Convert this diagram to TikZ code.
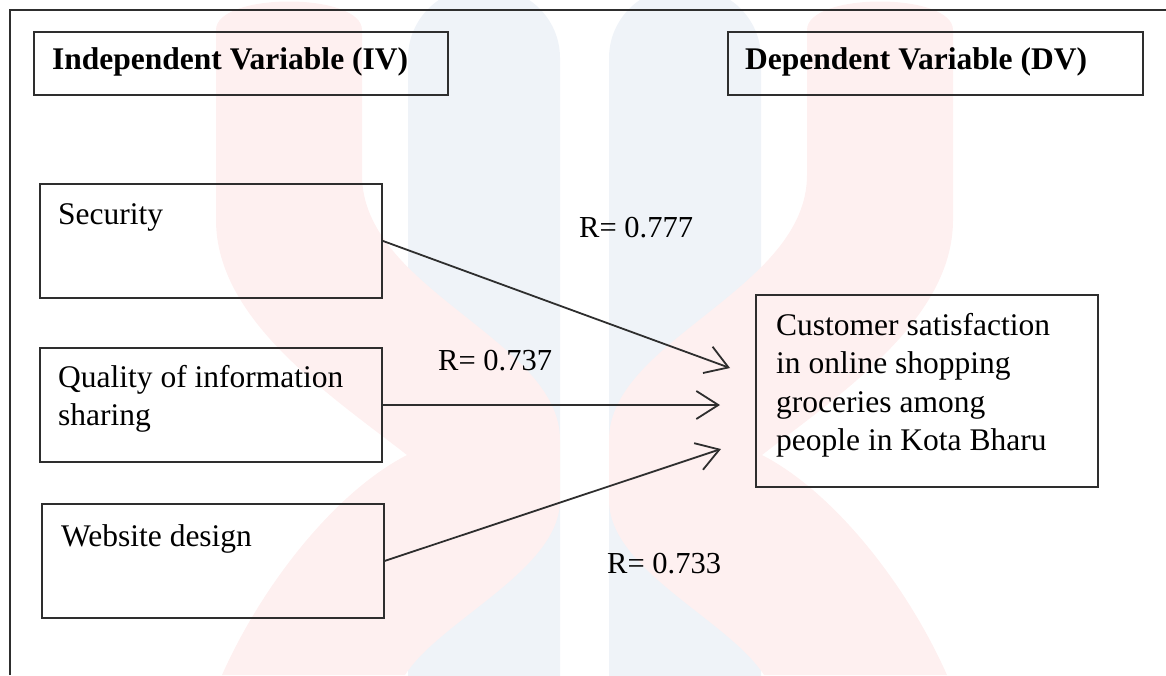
\documentclass[tikz,border=0pt]{standalone}
\usepackage{fontspec}
\setmainfont{Liberation Serif}
\usetikzlibrary{arrows.meta}
\definecolor{wmpink}{HTML}{FEF0F0}
\definecolor{wmblue}{HTML}{EFF3F8}
\definecolor{ink}{HTML}{2E2E2E}
\begin{document}
\begin{tikzpicture}[x=1pt,y=-1pt,
  box/.style={draw=ink, line width=1.8pt, inner sep=0pt, anchor=north west},
  txt/.style={inner sep=0pt, anchor=base west, font=\fontsize{31.5}{38.5}\selectfont},
  mtxt/.style={inner sep=0pt, anchor=north west, align=left, font=\fontsize{31.5}{38.5}\selectfont},
  hdr/.style={inner sep=0pt, anchor=base west, font=\fontsize{31.5}{38}\selectfont\bfseries},
  lbl/.style={inner sep=0pt, anchor=base west, font=\fontsize{30.5}{37}\selectfont},
  conn/.style={draw=ink, line width=1.8pt, -{Straight Barb[length=22pt,width=28pt,line width=1.8pt]}}]
\useasboundingbox (0,0) rectangle (1166,675);
% watermark
\fill[wmblue, rounded corners=70pt] (408,780) -- (408,-12) -- (560,-12) -- (560,780) -- cycle;
\fill[wmblue, rounded corners=70pt] (609,780) -- (609,-12) -- (761,-12) -- (761,780) -- cycle;
\foreach \s/\t in {1/0,-1/1169}{
  \fill[wmpink, xshift=\t pt, xscale=\s]
    (222,675) .. controls (262,585) and (335,492) .. (407,455)
    .. controls (330,395) and (216,320) .. (216,220)
    -- (216,30) .. controls (216,-8) and (362,-8) .. (362,30)
    -- (362,175) .. controls (362,290) and (560,340) .. (560,440)
    -- (560,500) .. controls (560,570) and (440,620) .. (405,675) -- cycle;
}
% outer frame
\draw[ink, line width=1.8pt] (10,675) -- (10,10) -- (1166,10);
% headers
\node[box, minimum width=414pt, minimum height=63pt] (iv) at (33,31) {};
\node[hdr] (ivt) at (52,69) {Independent Variable (IV)};
\node[box, minimum width=415pt, minimum height=63pt] (dv) at (727,31) {};
\node[hdr] (dvt) at (745,69) {Dependent Variable (DV)};
% independent variables
\node[box, minimum width=342pt, minimum height=114pt] (sec) at (39,183) {};
\node[txt] (sect) at (58,224) {Security};
\node[box, minimum width=342pt, minimum height=114pt] (qual) at (39,347) {};
\node[mtxt] (qualt) at (58,365) {Quality of information\\sharing};
\node[box, minimum width=342pt, minimum height=114pt] (web) at (41,503) {};
\node[txt] (webt) at (61,546) {Website design};
% dependent variable
\node[box, minimum width=342pt, minimum height=192pt] (cust) at (755,294) {};
\node[mtxt] (custt) at (776,313) {Customer satisfaction\\in online shopping\\groceries among\\people in Kota Bharu};
% arrows
\coordinate (e1) at (730,368);
\coordinate (e2) at (720,405);
\coordinate (e3) at (721,449);
\draw[conn] (sec.east) -- (e1);
\draw[conn] (qual.east) -- (e2);
\draw[conn] (web.east) -- (e3);
% labels
\node[lbl] (r1) at (579,237) {R= 0.777};
\node[lbl] (r2) at (438,370) {R= 0.737};
\node[lbl] (r3) at (607,573) {R= 0.733};
\end{tikzpicture}
\end{document}
